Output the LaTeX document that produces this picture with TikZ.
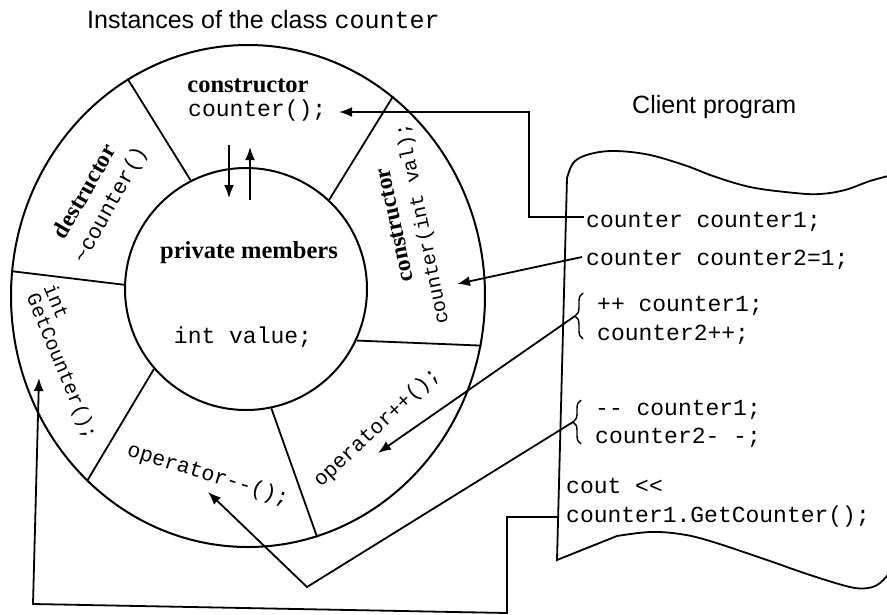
\documentclass[tikz,border=0pt]{standalone}
\usepackage{fontspec}
\setmainfont{Liberation Serif}
\setsansfont{Liberation Sans}
\setmonofont{Liberation Mono}
\usetikzlibrary{arrows.meta,shapes.geometric,decorations.pathreplacing}
\begin{document}
\begin{tikzpicture}[x=1pt,y=-1pt,
  conn/.style={line width=1.8pt, line join=miter},
  arr/.style={conn,-{Latex[length=13pt,width=10pt]}},
  ring/.style={draw, line width=2pt, inner sep=0pt},
  spoke/.style={line width=1.8pt},
  serif/.style={font=\bfseries\fontsize{24.5}{28}\selectfont, inner sep=0pt},
  serifR/.style={font=\bfseries\fontsize{23.5}{28}\selectfont, inner sep=0pt},
  mono/.style={font=\ttfamily\fontsize{23}{26}\selectfont, inner sep=0pt},
  monoA/.style={font=\ttfamily\fontsize{20}{24}\selectfont, inner sep=0pt},
  monoB/.style={font=\ttfamily\fontsize{21}{24}\selectfont, inner sep=0pt},
  monoC/.style={font=\ttfamily\fontsize{21.5}{24}\selectfont, inner sep=0pt},
  sans/.style={font=\sffamily\fontsize{25}{28}\selectfont, inner sep=0pt},
  brc/.style={line width=1.4pt, decorate, decoration={brace, amplitude=8pt}}
]
\useasboundingbox (0,0) rectangle (887,614);
\fill[white] (0,0) rectangle (887,614);

% class instance rings
\node[ring, ellipse, minimum width=474pt, minimum height=502pt] (outer) at (248,296) {};
\node[ring, circle, minimum size=242pt] (inner) at (246,289) {};

% spokes
\draw[spoke] (inner.117.6) -- (outer.119.6);
\draw[spoke] (inner.47.3) -- (outer.54);
\draw[spoke] (inner.-25.9) -- (outer.-12.3);
\draw[spoke] (inner.-78.6) -- (outer.-74.5);
\draw[spoke] (inner.-139.9) -- (outer.-131.6);
\draw[spoke] (inner.178.5) -- (outer.174.7);

% titles
\node[sans, anchor=base west] (title) at (87,28) {Instances of the class {\ttfamily\fontsize{25}{26}\selectfont counter}};
\node[sans, anchor=base west] (client) at (632,113) {Client program};

% ring texts
\node[serif, anchor=base] (ctor) at (248,92) {constructor};
\node[mono, anchor=base west] (ctorf) at (188,116) {counter();};
\node[serif, anchor=base] (priv) at (249,258) {private members};
\node[mono, anchor=base] (val) at (243,343) {int value;};
\node[serifR, rotate=60] (dtor) at (84,191) {destructor};
\node[monoC, rotate=61] (dtorf) at (111,205) {\textasciitilde counter()};
\node[serifR, rotate=102] (ctorb) at (395,225) {constructor};
\node[monoA, rotate=101.5] (ctorbf) at (423,224) {counter(int val);};
\node[monoA, rotate=-67.5] (gc1) at (57,301) {int};
\node[monoA, rotate=-67.5] (gc2) at (61,367) {GetCounter();};
\node[monoB, rotate=43] (opp) at (377,428) {operator++();};
\node[monoC, rotate=-17] (opm) at (208,475) {operator-{}-();};

% client program sheet
\draw[conn] plot[smooth, tension=0.6] coordinates {(892,175) (870,181) (845,190) (820,194) (795,193) (750,187) (710,175) (690,167) (650,155) (615,151) (590,154) (574,162) (567,178)}
  -- (557,560) -- plot[smooth, tension=0.6] coordinates {(617,536) (650,532) (680,534) (710,541) (767,560) (810,575) (850,587) (868,588) (880,583) (892,570)};

% client code
\node[mono, anchor=base west] (c1) at (586,227) {counter counter1;};
\node[mono, anchor=base west] (c2) at (586,265) {counter counter2=1;};
\node[mono, anchor=base west] (c3) at (597,311) {++ counter1;};
\node[mono, anchor=base west] (c4) at (597,340) {counter2++;};
\node[mono, anchor=base west] (c5) at (595,415) {-{}- counter1;};
\node[mono, anchor=base west] (c6) at (595,443) {counter2- -;};
\node[mono, anchor=base west] (c7) at (566,493) {cout <{}<};
\node[mono, anchor=base west] (c8) at (566,522) {counter1.GetCounter();};

% braces
\draw[brc] (583,339) -- (583,293);
\draw[brc] (581,444) -- (581,400);
\coordinate (b1) at (575,316);
\coordinate (b2) at (573,422);

% connector points
\coordinate (c1s) at ([xshift=-2pt,yshift=10pt]c1.base west);
\coordinate (c2s) at ([xshift=-4pt,yshift=8pt]c2.base west);
\coordinate (k1) at (529,112);
\coordinate (a1t) at (339,112);
\coordinate (a2t) at (457,284);
\coordinate (a3t) at (378,453);
\coordinate (v4) at (307,587);
\coordinate (a4t) at (208,492);
\coordinate (e5) at (558,517);
\coordinate (k5a) at (507,517);
\coordinate (k5b) at (507,613);
\coordinate (k5c) at (33,604);
\coordinate (a5t) at (39,378);
\coordinate (d1) at (229,145);
\coordinate (d2) at (229,198);
\coordinate (u1) at (250,200);
\coordinate (u2) at (250,147);

% connectors
\draw[arr] (c1s) -| (k1) -- (a1t);
\draw[arr] (c2s) -- (a2t);
\draw[arr] (b1) -- (a3t);
\draw[arr] (b2) -- (v4) -- (a4t);
\draw[arr] (e5) -- (k5a) -- (k5b) -- (k5c) -- (a5t);
\draw[arr] (d1) -- (d2);
\draw[arr] (u1) -- (u2);
\end{tikzpicture}
\end{document}
